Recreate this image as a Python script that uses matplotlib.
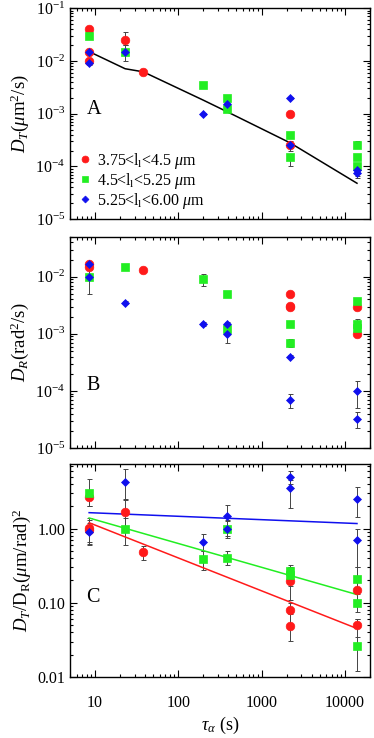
import numpy as np
import matplotlib
matplotlib.use("Agg")
import matplotlib.pyplot as plt
from matplotlib.ticker import LogLocator, NullFormatter, FixedLocator, FixedFormatter, LogFormatterMathtext

plt.rcParams['font.family'] = ['Liberation Serif', 'DejaVu Serif']
plt.rcParams['mathtext.fontset'] = 'custom'
plt.rcParams['mathtext.rm'] = 'Liberation Serif'
plt.rcParams['mathtext.it'] = 'Liberation Serif:italic'
plt.rcParams['mathtext.bf'] = 'Liberation Serif:bold'

# ---------------- data ----------------
series_labels = [r'3.75<l$_\mathrm{l}$<4.5 $\mu$m',
                 r'4.5<l$_\mathrm{l}$<5.25 $\mu$m',
                 r'5.25<l$_\mathrm{l}$<6.00 $\mu$m']

# Panel A: D_T
A_red_x = [8.5, 8.5, 8.5, 23, 38, 2200, 2200]
A_red_y = [0.040, 0.015, 0.010, 0.025, 0.0062, 0.0010, 0.00025]
A_red_lo = [0.036, 0.014, 0.0095, 0.020, 0.0058, 0.0009, 0.00020]
A_red_hi = [0.044, 0.016, 0.0105, 0.035, 0.0066, 0.0011, 0.00030]

A_grn_x = [8.5, 23, 200, 380, 380, 2200, 2200, 14000, 14000, 14000]
A_grn_y = [0.030, 0.015, 0.0035, 0.0020, 0.0012, 0.00040, 0.00015, 0.00025, 0.00015, 0.00010]
A_grn_lo = [0.028, 0.010, 0.0032, 0.0017, 0.0011, 0.00036, 0.00010, 0.00022, 0.00013, 0.00009]
A_grn_hi = [0.034, 0.020, 0.0038, 0.0023, 0.0013, 0.00045, 0.00017, 0.00030, 0.00017, 0.00011]

A_blu_x = [8.5, 8.5, 23, 200, 380, 2200, 2200, 14000, 14000]
A_blu_y = [0.015, 0.009, 0.015, 0.0010, 0.0015, 0.0020, 0.00025, 0.000084, 0.000075]
A_blu_lo = [0.014, 0.0085, 0.014, 0.00095, 0.0013, 0.0019, 0.00022, 0.000065, 0.000060]
A_blu_hi = [0.016, 0.0095, 0.016, 0.00105, 0.0017, 0.0021, 0.00028, 0.000100, 0.000090]

A_fit_x = [8.5, 23, 38, 200, 380, 2200, 14000]
A_fit_y = [0.015, 0.0071, 0.0062, 0.0018, 0.0011, 0.00028, 0.000048]

# Panel B: D_R
B_red_x = [8.5, 8.5, 38, 2200, 2200, 2200, 14000, 14000]
B_red_y = [0.0167, 0.0150, 0.013, 0.0050, 0.0031, 0.0030, 0.0029, 0.00098]
B_red_lo = [0.016, 0.014, 0.012, 0.0048, 0.0029, 0.0028, 0.0027, 0.00093]
B_red_hi = [0.0175, 0.016, 0.014, 0.0052, 0.0033, 0.0032, 0.0031, 0.00103]

B_grn_x = [8.5, 23, 200, 380, 380, 2200, 2200, 14000, 14000, 14000]
B_grn_y = [0.010, 0.015, 0.0090, 0.0050, 0.0012, 0.0015, 0.00069, 0.0037, 0.0015, 0.00126]
B_grn_lo = [0.0095, 0.014, 0.0070, 0.0045, 0.0011, 0.0014, 0.00060, 0.0034, 0.0012, 0.0010]
B_grn_hi = [0.0105, 0.016, 0.0110, 0.0055, 0.0013, 0.0016, 0.00080, 0.0040, 0.0018, 0.0015]

B_blu_x = [8.5, 8.5, 23, 200, 380, 380, 2200, 2200, 14000, 14000]
B_blu_y = [0.0167, 0.010, 0.0035, 0.0015, 0.0015, 0.0010, 0.00040, 0.000070, 0.00010, 0.000032]
B_blu_lo = [0.016, 0.005, 0.0033, 0.0014, 0.0014, 0.0007, 0.00038, 0.000050, 0.000050, 0.000022]
B_blu_hi = [0.0175, 0.013, 0.0037, 0.0016, 0.0016, 0.0013, 0.00042, 0.000090, 0.000150, 0.000042]

# Panel C: D_T / D_R
C_red_x = [8.5, 8.5, 8.5, 23, 38, 2200, 2200, 2200, 14000, 14000]
C_red_y = [2.65, 1.02, 0.95, 1.65, 0.48, 0.197, 0.079, 0.049, 0.149, 0.050]
C_red_lo = [2.0, 0.65, 0.62, 1.0, 0.38, 0.11, 0.05, 0.031, 0.11, 0.035]
C_red_hi = [3.3, 1.4, 1.3, 2.4, 0.58, 0.30, 0.10, 0.07, 0.19, 0.060]

C_grn_x = [8.5, 23, 200, 380, 380, 2200, 2200, 14000, 14000, 14000]
C_grn_y = [3.0, 1.0, 0.39, 1.0, 0.40, 0.27, 0.235, 0.21, 0.10, 0.026]
C_grn_lo = [2.0, 0.6, 0.28, 0.80, 0.32, 0.20, 0.17, 0.15, 0.075, 0.012]
C_grn_hi = [4.6, 1.4, 0.50, 1.25, 0.50, 0.32, 0.30, 0.30, 0.13, 0.060]

C_blu_x = [8.5, 23, 200, 380, 380, 2200, 2200, 14000, 14000]
C_blu_y = [0.89, 4.3, 0.66, 1.48, 1.0, 5.0, 3.56, 2.48, 0.70]
C_blu_lo = [0.60, 2.5, 0.50, 1.0, 0.75, 4.0, 1.9, 1.43, 0.30]
C_blu_hi = [1.20, 6.3, 0.85, 2.1, 1.3, 6.0, 4.5, 3.6, 1.0]

C_fit_x = [8.5, 14000]
C_fit_red = [1.20, 0.045]
C_fit_grn = [1.39, 0.129]
C_fit_blu = [1.64, 1.17]

# ---------------- styling ----------------
RED = '#ff1a1a'
GRN = '#22ee22'
BLU = '#1010ee'
ERRC = '#444444'
styles = [dict(marker='o', color=RED, ms=6.2),
          dict(marker='s', color=GRN, ms=5.8),
          dict(marker='D', color=BLU, ms=4.4)]

fig = plt.figure(figsize=(3.74, 7.38), dpi=100)
L, W = 0.187, 0.802
axA = fig.add_axes([L, 0.703, W, 0.286])
axB = fig.add_axes([L, 0.393, W, 0.286])
axC = fig.add_axes([L, 0.0827, W, 0.289])


def plot_series(ax, x, y, lo, hi, st, label=None):
    x = np.array(x, float); y = np.array(y, float)
    err = np.vstack([y - np.array(lo), np.array(hi) - y])
    ax.errorbar(x, y, yerr=err, fmt='none', ecolor=ERRC, elinewidth=0.7,
                capsize=1.8, capthick=0.7, zorder=2)
    ax.plot(x, y, linestyle='none', marker=st['marker'], ms=st['ms'],
            mfc=st['color'], mec=st['color'], mew=0.5, label=label, zorder=3)


for ax in (axA, axB, axC):
    ax.set_xscale('log')
    ax.set_yscale('log')
    ax.set_xlim(5, 20000)
    ax.tick_params(which='both', direction='in', top=True, right=True,
                   labelsize=11.5, width=0.8)
    ax.tick_params(which='major', length=5)
    ax.tick_params(which='minor', length=2.5)
    ax.xaxis.set_major_locator(LogLocator(base=10, numticks=10))
    ax.xaxis.set_minor_locator(LogLocator(base=10, subs=np.arange(2, 10), numticks=20))
    ax.yaxis.set_minor_locator(LogLocator(base=10, subs=np.arange(2, 10), numticks=20))
    ax.yaxis.set_minor_formatter(NullFormatter())
    ax.xaxis.set_minor_formatter(NullFormatter())
    for s in ax.spines.values():
        s.set_linewidth(1.0)

# Panel A
plot_series(axA, A_red_x, A_red_y, A_red_lo, A_red_hi, styles[0], series_labels[0])
plot_series(axA, A_grn_x, A_grn_y, A_grn_lo, A_grn_hi, styles[1], series_labels[1])
plot_series(axA, A_blu_x, A_blu_y, A_blu_lo, A_blu_hi, styles[2], series_labels[2])
axA.plot(A_fit_x, A_fit_y, color='black', lw=1.1, zorder=2.5)
axA.set_ylim(1e-5, 1e-1)
axA.yaxis.set_major_locator(LogLocator(base=10, numticks=10))
axA.yaxis.set_major_formatter(LogFormatterMathtext())
axA.set_ylabel(r'$D_T$($\mu$m$^2$/s)', fontsize=13.5, labelpad=3)
axA.text(0.055, 0.52, 'A', transform=axA.transAxes, fontsize=14.5, va='center', ha='left')
axA.tick_params(labelbottom=False)
leg = axA.legend(loc='upper left', bbox_to_anchor=(0.023, 0.335), frameon=False,
                 fontsize=11.5, handlelength=0.7, handletextpad=0.4, markerscale=0.8,
                 labelspacing=0.0, borderpad=0.15, borderaxespad=0.0)

# Panel B
plot_series(axB, B_red_x, B_red_y, B_red_lo, B_red_hi, styles[0])
plot_series(axB, B_grn_x, B_grn_y, B_grn_lo, B_grn_hi, styles[1])
plot_series(axB, B_blu_x, B_blu_y, B_blu_lo, B_blu_hi, styles[2])
axB.set_ylim(1e-5, 5e-2)
axB.yaxis.set_major_locator(LogLocator(base=10, numticks=10))
axB.yaxis.set_major_formatter(LogFormatterMathtext())
axB.set_ylabel(r'$D_R$(rad$^2$/s)', fontsize=13.5, labelpad=3)
axB.text(0.055, 0.295, 'B', transform=axB.transAxes, fontsize=14.5, va='center', ha='left')
axB.tick_params(labelbottom=False)

# Panel C
plot_series(axC, C_red_x, C_red_y, C_red_lo, C_red_hi, styles[0])
plot_series(axC, C_grn_x, C_grn_y, C_grn_lo, C_grn_hi, styles[1])
plot_series(axC, C_blu_x, C_blu_y, C_blu_lo, C_blu_hi, styles[2])
axC.plot(C_fit_x, C_fit_red, color=RED, lw=1.1, zorder=2.5)
axC.plot(C_fit_x, C_fit_grn, color=GRN, lw=1.1, zorder=2.5)
axC.plot(C_fit_x, C_fit_blu, color=BLU, lw=1.1, zorder=2.5)
axC.set_ylim(0.01, 7.5)
C_yticks = [0.01, 0.1, 1.0]
C_yticklabels = ['0.01', '0.10', '1.00']
axC.yaxis.set_major_locator(FixedLocator(C_yticks))
axC.yaxis.set_major_formatter(FixedFormatter(C_yticklabels))
x_ticks = [10, 100, 1000, 10000]
x_ticklabels = ['10', '100', '1000', '10000']
axC.xaxis.set_major_locator(FixedLocator(x_ticks))
axC.xaxis.set_major_formatter(FixedFormatter(x_ticklabels))
axC.tick_params(axis='x', pad=13)
axC.set_ylabel(r'$D_T$/D$_\mathrm{R}$($\mu$m/rad)$^2$', fontsize=13.5, labelpad=3)
axC.set_xlabel(r'$\tau_\alpha$ (s)', fontsize=13, labelpad=3)
axC.text(0.055, 0.372, 'C', transform=axC.transAxes, fontsize=14.5, va='center', ha='left')

fig.savefig('out.png', dpi=100)
